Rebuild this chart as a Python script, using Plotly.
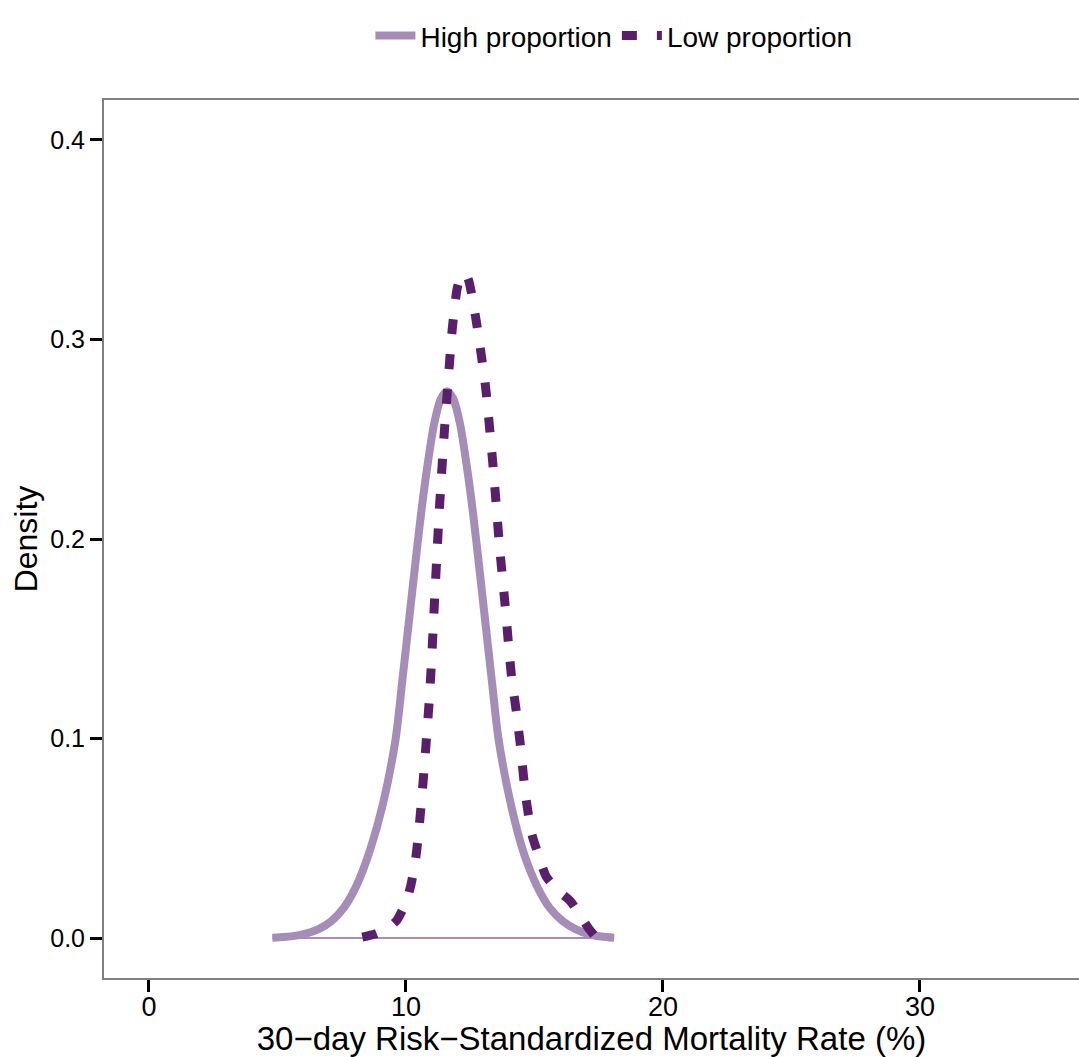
import plotly.graph_objects as go

# ---- data ----
high_x = [4.8, 5.1, 5.6, 6.1, 6.6, 7.1, 7.6, 8.1, 8.6, 9.1, 9.6, 9.85, 10.1, 10.35, 10.6,
          10.85, 11.1, 11.35, 11.6, 11.85, 12.1, 12.35, 12.6, 12.85, 13.1, 13.35, 13.6,
          14.1, 14.6, 15.1, 15.6, 16.1, 16.6, 17.1, 17.6, 18.1]
high_y = [0.0002, 0.0004, 0.001, 0.0022, 0.0045, 0.0085, 0.0155, 0.027, 0.044, 0.067,
          0.100, 0.128, 0.157, 0.186, 0.214, 0.238, 0.258, 0.270, 0.274, 0.270, 0.258,
          0.238, 0.214, 0.186, 0.157, 0.128, 0.100, 0.066, 0.042, 0.026, 0.015, 0.0085,
          0.0045, 0.002, 0.0008, 0.0002]

low_x = [8.3, 8.8, 9.3, 9.65, 10.0, 10.2, 10.4, 10.6, 10.78, 10.9, 11.0, 11.1, 11.3, 11.5,
         11.6, 11.8, 12.0, 12.2, 12.4, 12.7, 12.9, 13.1, 13.4, 13.65, 13.85, 14.1, 14.3,
         14.45, 14.65, 14.9, 15.2, 15.45, 15.9, 16.4, 16.8, 17.1, 17.35]
low_y = [0.0005, 0.002, 0.005, 0.009, 0.018, 0.027, 0.042, 0.068, 0.097, 0.118, 0.140,
         0.166, 0.215, 0.255, 0.272, 0.305, 0.326, 0.333, 0.331, 0.312, 0.295, 0.276,
         0.235, 0.195, 0.168, 0.132, 0.113, 0.097, 0.072, 0.052, 0.040, 0.031, 0.024,
         0.0185, 0.011, 0.005, 0.001]

series_names = ["High proportion", "Low proportion"]
x_ticks = [0, 10, 20, 30]
y_ticks = [0.0, 0.1, 0.2, 0.3, 0.4]
y_tick_labels = ["0.0", "0.1", "0.2", "0.3", "0.4"]

x_title = "30\u2212day Risk\u2212Standardized Mortality Rate (%)"
y_title = "Density"

LIGHT = "#a58db7"
DARK = "#5a1f6b"
FONT = "Liberation Sans, Arial, sans-serif"

fig = go.Figure()

# thin baseline of the high-proportion density polygon
fig.add_trace(go.Scatter(
    x=[min(high_x), max(high_x)], y=[0, 0], mode="lines",
    line=dict(color=LIGHT, width=2), showlegend=False, hoverinfo="skip"))

fig.add_trace(go.Scatter(
    x=high_x, y=high_y, mode="lines", name=series_names[0],
    line=dict(color=LIGHT, width=8, shape="spline", smoothing=0.8)))

fig.add_trace(go.Scatter(
    x=low_x, y=low_y, mode="lines", name=series_names[1],
    line=dict(color=DARK, width=9, dash="15px,20px", shape="spline", smoothing=0.6)))

fig.update_layout(
    width=1079, height=1057,
    margin=dict(l=104, r=0, t=100, b=79),
    paper_bgcolor="white", plot_bgcolor="white",
    font=dict(family=FONT, color="black"),
    showlegend=True,
    legend=dict(orientation="h", x=0.523, xanchor="center", y=1.073, yanchor="middle",
                font=dict(size=28, family=FONT, color="black"),
                bgcolor="rgba(0,0,0,0)", itemwidth=40, tracegroupgap=0),
)

fig.update_xaxes(
    range=[-1.75, 36.19], showgrid=False, zeroline=False, automargin=False,
    showline=True, linecolor="#808080", linewidth=2, mirror=True,
    ticks="outside", ticklen=12, tickwidth=3, tickcolor="black",
    tickvals=x_ticks, ticktext=[str(v) for v in x_ticks],
    ticklabelstandoff=-8,
    tickfont=dict(size=27, family=FONT, color="black"),
    title=dict(text=x_title, font=dict(size=33, family=FONT, color="black"), standoff=2),
)

fig.update_yaxes(
    range=[-0.02, 0.42], showgrid=False, zeroline=False, automargin=False,
    showline=True, linecolor="#808080", linewidth=2, mirror=False,
    ticks="outside", ticklen=12, tickwidth=3, tickcolor="black",
    tickvals=y_ticks, ticktext=y_tick_labels,
    tickfont=dict(size=25, family=FONT, color="black"),
    title=dict(text=y_title, font=dict(size=32, family=FONT, color="black"), standoff=3),
)

fig.write_html(
    "out.html",
    config={"displayModeBar": False},
    post_script="document.body.style.margin='0';document.body.style.overflow='hidden';",
)
